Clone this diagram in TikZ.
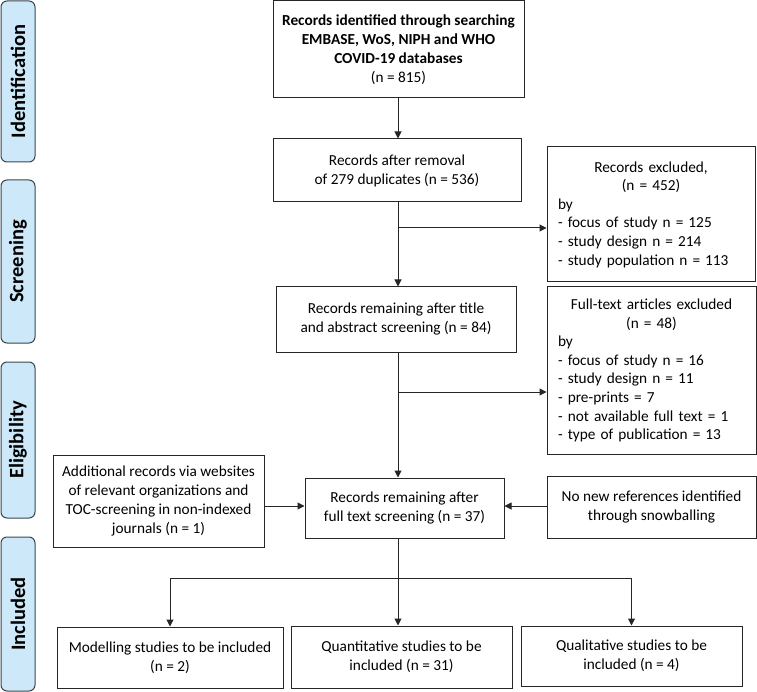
\documentclass[tikz,border=0pt]{standalone}
\usepackage{fontspec}
\setmainfont{Carlito}
\usetikzlibrary{arrows.meta,calc}
\definecolor{sidefill}{HTML}{CDE8F8}
\definecolor{sideborder}{HTML}{37474F}
\begin{document}
\begin{tikzpicture}[x=1pt,y=-1pt,
  box/.style={draw=black!85, line width=1pt, inner sep=0pt, align=center,
    font=\fontsize{15.3}{19}\selectfont},
  exbox/.style={box, align=left, font=\fontsize{15.3}{18.6}\selectfont},
  side/.style={draw=sideborder, fill=sidefill, rounded corners=6pt, line width=1pt,
    inner sep=0pt, rotate=90, minimum height=34pt, font=\fontsize{20.5}{24}\selectfont\bfseries},
  arr/.style={line width=1pt, draw=black!85, -{Triangle[width=7pt,length=7pt]}},
  ln/.style={line width=1pt, draw=black!85}]
\useasboundingbox (0,0) rectangle (757,692);

% phase labels
\node[side, minimum width=161pt] (sid) at (18,81.5) {Identification};
\node[side, minimum width=163pt] (ssc) at (18,261.5) {Screening};
\node[side, minimum width=156pt] (sel) at (18,440) {Eligibility};
\node[side, minimum width=154pt] (sin) at (18,614) {Included};

% main boxes
\node[box, minimum width=251pt, minimum height=97pt] (top) at (398.5,49.5)
  {\textbf{Records identified through searching}\\\textbf{EMBASE, WoS, NIPH and WHO}\\\textbf{COVID-19 databases}\\(n = 815)};
\node[box, minimum width=248pt, minimum height=63pt] (b2) at (397,170.5)
  {Records after removal\\of 279 duplicates (n = 536)};
\node[exbox, minimum width=208pt, minimum height=135pt, text width=186pt] (ex1) at (651,214.5)
  {{\centering Records excluded,\\(n = 452)\par}by\\- focus of study n = 125\\- study design n = 214\\- study population n = 113};
\node[box, minimum width=240pt, minimum height=65pt] (b3) at (396,319.5)
  {Records remaining after title\\and abstract screening (n = 84)};
\node[exbox, minimum width=209pt, minimum height=167pt, text width=187pt] (ex2) at (651.5,370.5)
  {{\centering Full-text articles excluded\\(n = 48)\par}by\\- focus of study n = 16\\- study design n = 11\\- pre-prints = 7\\- not available full text = 1\\- type of publication = 13};
\node[box, minimum width=211pt, minimum height=92pt] (add) at (158.5,501)
  {Additional records via websites\\of relevant organizations and\\TOC-screening in non-indexed\\journals (n = 1)};
\node[box, minimum width=199pt, minimum height=60pt] (b4) at (404.5,508)
  {Records remaining after\\full text screening (n = 37)};
\node[box, minimum width=209pt, minimum height=62pt] (snow) at (651.5,507)
  {No new references identified\\through snowballing};
\node[box, minimum width=226pt, minimum height=61pt] (model) at (170,657.5)
  {Modelling studies to be included\\(n = 2)};
\node[box, minimum width=221pt, minimum height=62pt] (quant) at (401.5,657)
  {Quantitative studies to be\\included (n = 31)};
\node[box, minimum width=221pt, minimum height=60pt] (qual) at (631.5,656)
  {Qualitative studies to be\\included (n = 4)};

% helper coordinates
\coordinate (sp) at (398,0);
\coordinate (j1) at (398,228);
\coordinate (j2) at (398,392);
\coordinate (h4) at (0,506);
\coordinate (j3) at (398,578);

% connectors
\draw[arr] (top.south -| sp) -- (b2.north -| sp);
\draw[arr] (b2.south -| sp) -- (b3.north -| sp);
\draw[arr] (j1) -- (ex1.west |- j1);
\draw[arr] (b3.south -| sp) -- (b4.north -| sp);
\draw[arr] (j2) -- (ex2.west |- j2);
\draw[arr] (add.east |- h4) -- (b4.west |- h4);
\draw[arr] (snow.west |- h4) -- (b4.east |- h4);
\draw[arr] (b4.south -| sp) -- (quant.north -| sp);
\draw[arr] (j3) -| (model.north);
\draw[arr] (j3) -| (qual.north);
\end{tikzpicture}
\end{document}
